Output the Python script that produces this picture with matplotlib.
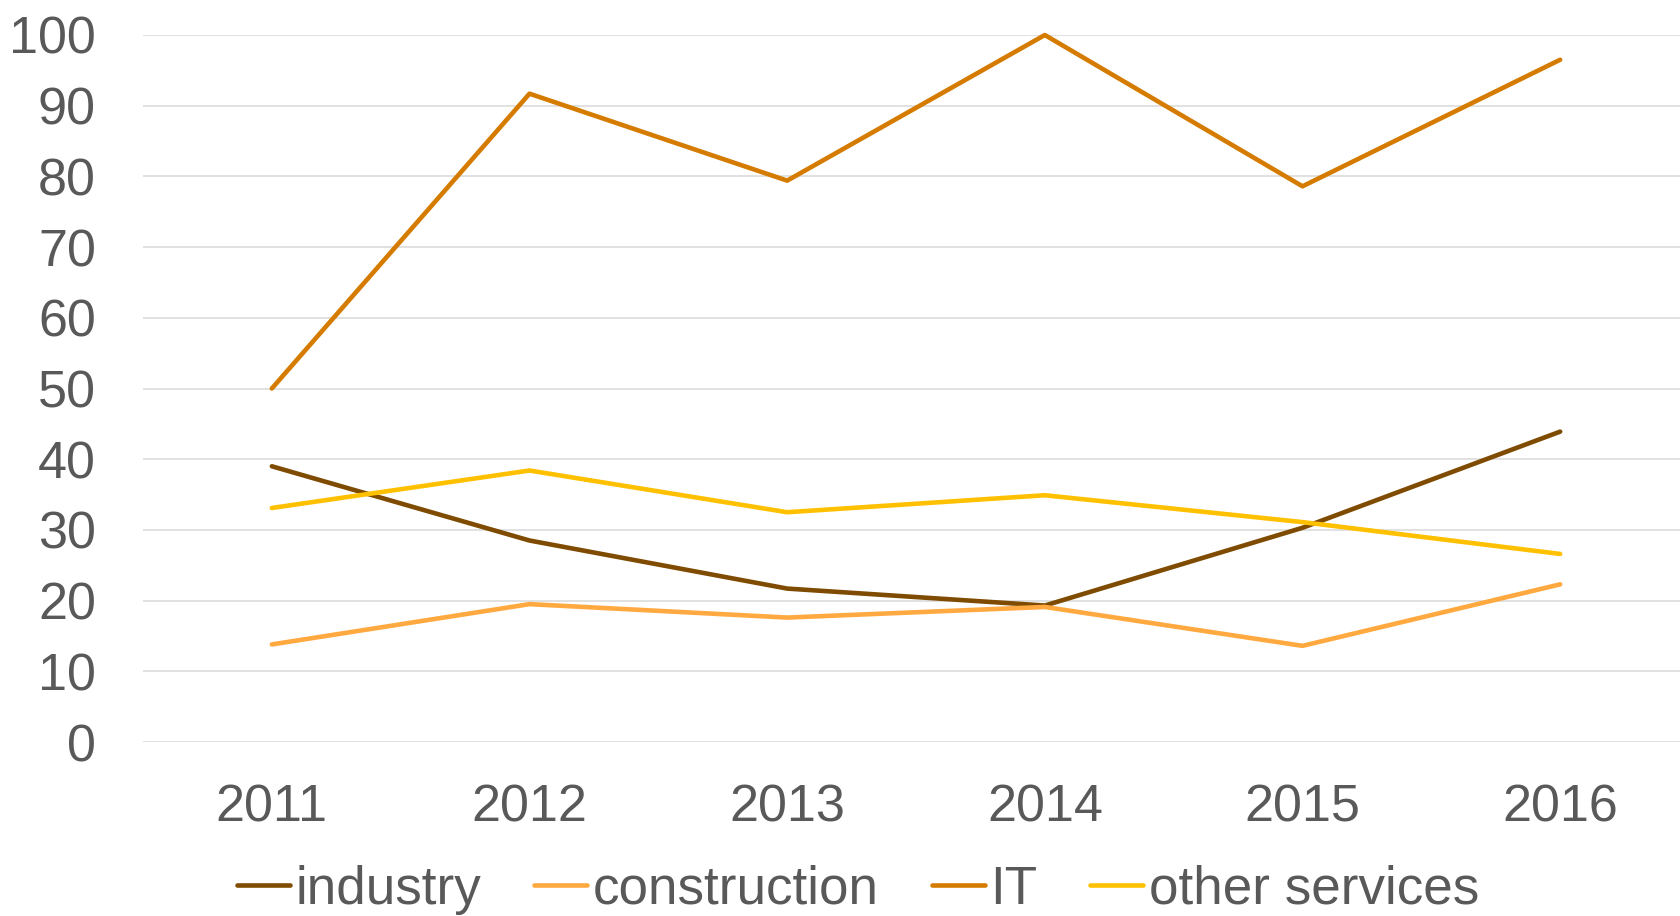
#! /usr/bin/env python
import matplotlib
matplotlib.use('Agg')
import matplotlib.pyplot as plt

years = ['2011', '2012', '2013', '2014', '2015', '2016']
series_names = ['industry', 'construction', 'IT', 'other services']
industry = [39.0, 28.5, 21.7, 19.3, 30.3, 43.9]
construction = [13.8, 19.5, 17.6, 19.1, 13.6, 22.3]
it = [50.0, 91.7, 79.4, 100.0, 78.6, 96.5]
other_services = [33.1, 38.4, 32.5, 34.9, 31.1, 26.6]
y_ticks = [0, 10, 20, 30, 40, 50, 60, 70, 80, 90, 100]


def main():
    plt.rcParams['font.family'] = ['Liberation Sans', 'DejaVu Sans']
    grey = '#595959'
    colours = ['#7F4B00', '#FFA940', '#D47B00', '#FFC000']

    fig = plt.figure(figsize=(16.8, 9.16), dpi=100)
    # category axis runs a little past the right edge of the figure
    ax = fig.add_axes([143 / 1680, 1 - 742 / 916, (1689 - 143) / 1680, (742 - 35) / 916])

    x = list(range(len(years)))
    for name, values, col in zip(series_names, [industry, construction, it, other_services], colours):
        ax.plot(x, values, color=col, linewidth=3.3, solid_capstyle='round',
                solid_joinstyle='round', label=name, clip_on=False, zorder=3)

    ax.set_xlim(-0.5, len(years) - 0.5)
    ax.set_ylim(0, 100)
    ax.set_xticks(x)
    ax.set_xticklabels(years)
    ax.set_yticks(y_ticks)
    ax.grid(axis='y', color='#D9D9D9', linewidth=1.1, zorder=0)
    ax.set_axisbelow(True)
    for s in ax.spines.values():
        s.set_visible(False)
    ax.tick_params(axis='both', length=0, labelsize=37.5, labelcolor=grey)
    ax.tick_params(axis='x', pad=30)
    ax.tick_params(axis='y', pad=34)

    leg = fig.legend(loc='center', bbox_to_anchor=(858 / 1680, 1 - 890 / 916), ncol=4,
                     frameon=False, fontsize=38.2, handlelength=1.0, handletextpad=0.1,
                     columnspacing=1.0, borderpad=0)
    for t in leg.get_texts():
        t.set_color(grey)

    fig.savefig('out.png', dpi=100)


########################################
if __name__ == "__main__":
    main()
